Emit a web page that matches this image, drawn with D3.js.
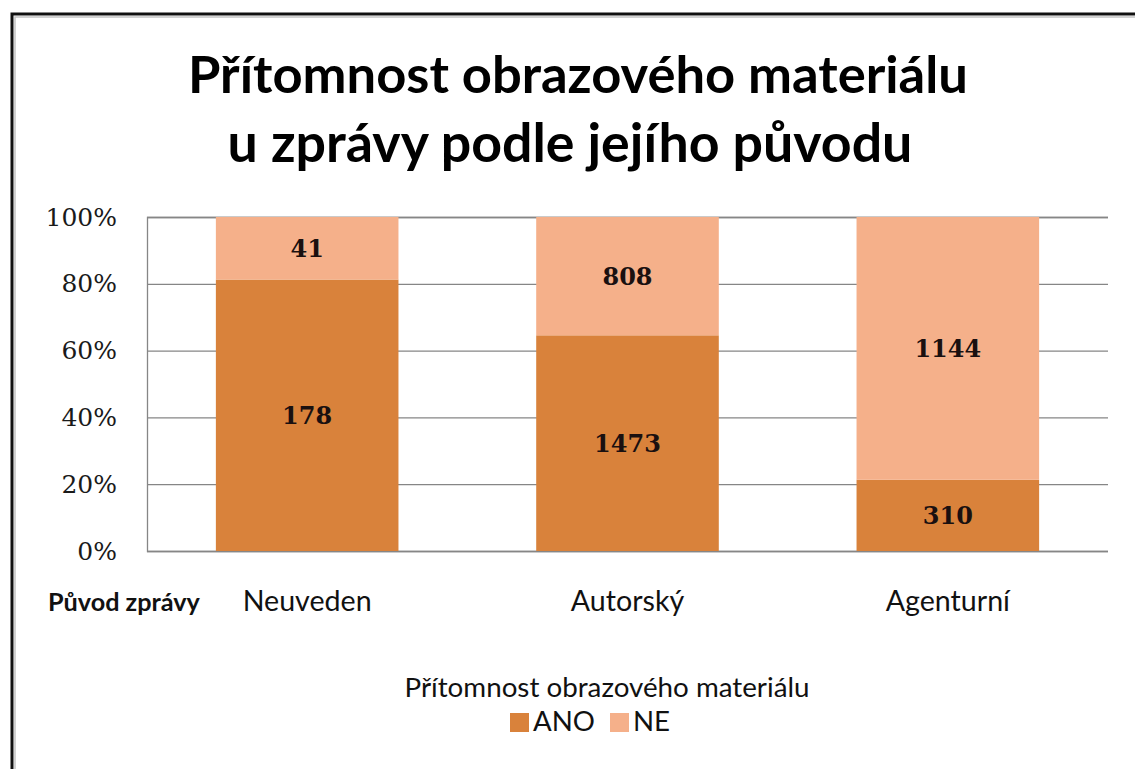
<!DOCTYPE html>
<html lang="cs">
<head>
<meta charset="utf-8">
<title>Přítomnost obrazového materiálu</title>
<script src="https://cdn.jsdelivr.net/npm/d3@7"></script>
<style>
  body { margin: 0; background: #fff; }
</style>
</head>
<body>
<script>
// data
var categories = ["Neuveden", "Autorský", "Agenturní"];
var seriesNames = ["ANO", "NE"];
var ano = [178, 1473, 310];
var ne = [41, 808, 1144];
var yTicks = [0, 0.2, 0.4, 0.6, 0.8, 1];
var colors = ["#d9823b", "#f5b08a"];
var titleLines = ["Přítomnost obrazového materiálu", "u zprávy podle jejího původu"];
var legendTitle = "Přítomnost obrazového materiálu";
var xTitle = "Původ zprávy";

var width = 1135, height = 769;
var plotLeft = 147, plotRight = 1108, plotTop = 217, plotBottom = 551;

var svg = d3.select("body").append("svg")
    .attr("width", width)
    .attr("height", height);

// font size that makes the first node of sel span w pixels
function fitSize(sel, w) {
  var node = sel.node();
  var fs = parseFloat(d3.select(node).style("font-size"));
  return fs * w / node.getComputedTextLength();
}

// frame (only top and left edges are inside the picture)
svg.append("path")
    .attr("d", "M12," + height + "V14H" + width)
    .attr("fill", "none")
    .attr("stroke", "#111")
    .attr("stroke-width", 3);
svg.append("path")
    .attr("d", "M15," + height + "V17H" + width)
    .attr("fill", "none")
    .attr("stroke", "#c4c4c4")
    .attr("stroke-width", 1.5);

// title
var title = svg.append("g")
    .attr("font-family", "Lato, 'Open Sans', sans-serif")
    .attr("font-weight", "bold")
    .attr("fill", "#000")
    .attr("text-anchor", "middle");
var t1 = title.append("text").attr("x", 578).attr("y", 93)
    .style("font-size", "48px").text(titleLines[0]);
t1.style("font-size", fitSize(t1, 780) + "px");
var t2 = title.append("text").attr("x", 570).attr("y", 162)
    .style("font-size", "48px").text(titleLines[1]);
t2.style("font-size", fitSize(t2, 685) + "px");

var x = d3.scaleBand()
    .domain(categories)
    .range([plotLeft, plotRight])
    .paddingInner(0.43)
    .paddingOuter(0.215);

var y = d3.scaleLinear()
    .domain([0, 1])
    .range([plotBottom, plotTop]);

var rows = categories.map(function(c, i) {
  return { cat: c, ANO: ano[i], NE: ne[i] };
});
var stacked = d3.stack().keys(seriesNames).offset(d3.stackOffsetExpand)(rows);

// gridlines + y axis
var yAxis = svg.append("g")
    .attr("transform", "translate(" + plotLeft + ",0)")
    .call(d3.axisLeft(y)
      .tickValues(yTicks)
      .tickSize(-(plotRight - plotLeft))
      .tickPadding(30)
      .tickFormat(d3.format(".0%")));
yAxis.select(".domain").attr("stroke", "#868686").attr("stroke-width", 1.3);
yAxis.selectAll(".tick line").attr("stroke", "#868686").attr("stroke-width", 1.3);
yAxis.selectAll(".tick text")
    .attr("font-family", "'DejaVu Serif', serif")
    .attr("font-size", 25)
    .attr("fill", "#1a1a1a");

// bars
var layer = svg.append("g").selectAll("g")
    .data(stacked)
    .enter().append("g")
    .attr("fill", function(d, i) { return colors[i]; });

layer.selectAll("rect")
    .data(function(d) { return d; })
    .enter().append("rect")
    .attr("x", function(d) { return x(d.data.cat); })
    .attr("width", x.bandwidth())
    .attr("y", function(d) { return y(d[1]); })
    .attr("height", function(d) { return y(d[0]) - y(d[1]); });

// value labels
layer.selectAll("text")
    .data(function(d) {
      return d.map(function(p) { return { p: p, key: d.key }; });
    })
    .enter().append("text")
    .attr("x", function(d) { return x(d.p.data.cat) + x.bandwidth() / 2; })
    .attr("y", function(d) { return (y(d.p[0]) + y(d.p[1])) / 2; })
    .attr("dy", "0.36em")
    .attr("text-anchor", "middle")
    .attr("font-family", "'DejaVu Serif', serif")
    .attr("font-weight", "bold")
    .attr("font-size", 24)
    .attr("fill", "#1a1010")
    .text(function(d) { return d.p.data[d.key]; });

// category labels
var xAxis = svg.append("g")
    .attr("transform", "translate(0," + plotBottom + ")")
    .call(d3.axisBottom(x).tickSize(0).tickPadding(0));
xAxis.select(".domain").remove();
var catText = xAxis.selectAll(".tick text")
    .attr("y", 611 - plotBottom)
    .attr("dy", 0)
    .attr("font-family", "Lato, sans-serif")
    .style("font-size", "28px")
    .attr("fill", "#111");
catText.style("font-size", fitSize(catText, 129) + "px");

var xt = svg.append("text")
    .attr("x", 48)
    .attr("y", 611)
    .attr("font-family", "Lato, sans-serif")
    .attr("font-weight", "bold")
    .style("font-size", "22px")
    .attr("fill", "#111")
    .text(xTitle);
xt.style("font-size", fitSize(xt, 152) + "px");

// legend
var lt = svg.append("text")
    .attr("x", 607)
    .attr("y", 697)
    .attr("text-anchor", "middle")
    .attr("font-family", "Lato, sans-serif")
    .style("font-size", "22px")
    .attr("fill", "#111")
    .text(legendTitle);
lt.style("font-size", fitSize(lt, 405) + "px");

var legendX = [510, 610];
var legend = svg.append("g").selectAll("g")
    .data(seriesNames)
    .enter().append("g")
    .attr("transform", function(d, i) { return "translate(" + legendX[i] + ",713)"; });
legend.append("rect")
    .attr("width", 19)
    .attr("height", 19)
    .attr("fill", function(d, i) { return colors[i]; });
var legText = legend.append("text")
    .attr("x", 23)
    .attr("y", 18)
    .attr("font-family", "Lato, sans-serif")
    .style("font-size", "26px")
    .attr("fill", "#111")
    .text(function(d) { return d; });
legText.style("font-size", fitSize(legText, 62) + "px");
</script>
</body>
</html>
